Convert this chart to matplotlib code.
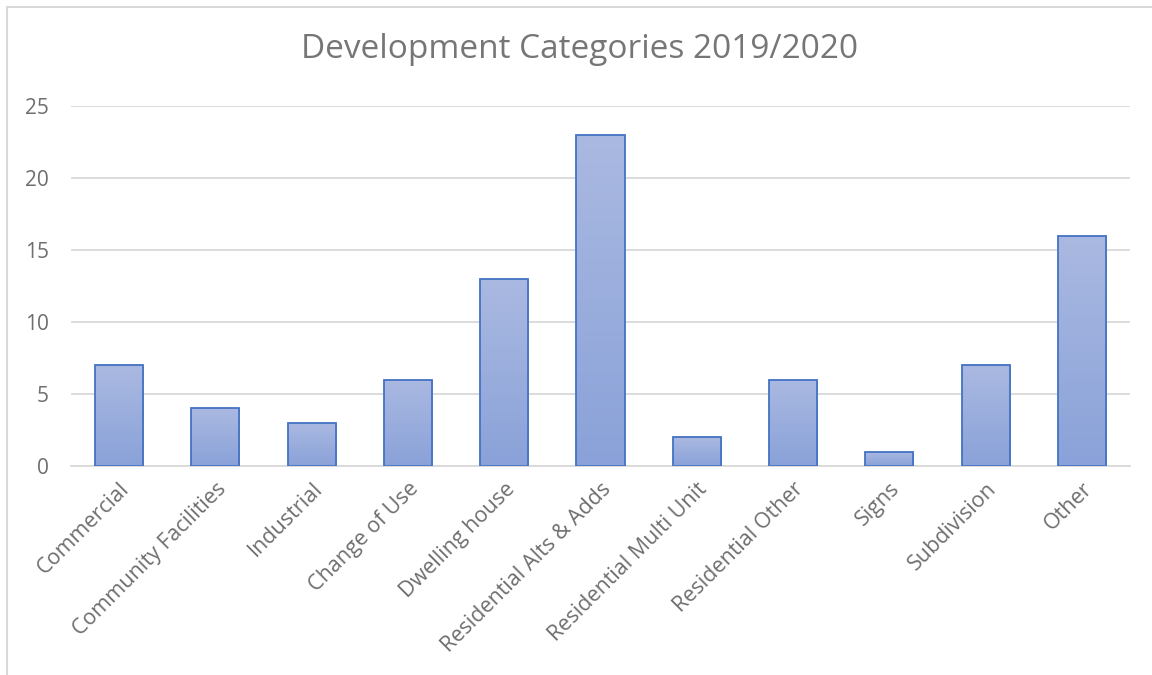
import numpy as np
import matplotlib
matplotlib.use("Agg")
import matplotlib.pyplot as plt
from matplotlib.patches import Rectangle

categories = [
    "Commercial",
    "Community Facilities",
    "Industrial",
    "Change of Use",
    "Dwelling house",
    "Residential Alts & Adds",
    "Residential Multi Unit",
    "Residential Other",
    "Signs",
    "Subdivision",
    "Other",
]
counts = [7, 4, 3, 6, 13, 23, 2, 6, 1, 7, 16]
y_ticks = [0, 5, 10, 15, 20, 25]

title = "Development Categories 2019/2020"
text_color = "#6E6E6E"
grid_color = "#D9D9D9"
edge_color = "#4472C4"

plt.rcParams["font.family"] = ["Open Sans", "DejaVu Sans"]

fig = plt.figure(figsize=(11.52, 6.75), dpi=100)
ax = fig.add_axes([71 / 1152, 1 - 466 / 675, 1059 / 1152, 360 / 675])

x = np.arange(len(categories))
bars = ax.bar(x, counts, width=0.5, facecolor="none",
              edgecolor=edge_color, linewidth=1.3, zorder=3)

# vertical gradient fill, light at top, darker at bottom
grad = np.linspace(0, 1, 256).reshape(-1, 1)
top_rgb = np.array([0xAA, 0xB9, 0xE1]) / 255
bot_rgb = np.array([0x8A, 0xA2, 0xD9]) / 255
for bar in bars:
    x0 = bar.get_x()
    w = bar.get_width()
    h = bar.get_height()
    img = top_rgb * (1 - grad[:, :, None]) + bot_rgb * grad[:, :, None]
    im = ax.imshow(img, extent=[x0, x0 + w, 0, h], origin="upper",
                   aspect="auto", zorder=2)
    im.set_clip_path(bar)

ax.set_xlim(-0.5, len(categories) - 0.5)
ax.set_ylim(0, 25)
ax.set_yticks(y_ticks)
ax.set_xticks(x)
ax.set_xticklabels(categories, rotation=45, ha="right",
                   rotation_mode="anchor", color=text_color, fontsize=15.5)
ax.tick_params(axis="x", length=0, pad=9)
ax.tick_params(axis="y", length=0, pad=16, labelcolor=text_color, labelsize=15)

ax.yaxis.grid(True, color=grid_color, linewidth=1.3, zorder=0)
ax.set_axisbelow(True)
for side in ["top", "right", "left"]:
    ax.spines[side].set_visible(False)
ax.spines["bottom"].set_color(grid_color)
ax.spines["bottom"].set_linewidth(1.3)

fig.text(0.503, 1 - 49 / 675, title, ha="center", va="center",
         fontsize=24, color="#767676")

# chart-area border
fig.patches.append(Rectangle((7 / 1152, -0.1), 1.2, 1.1 - 7 / 675,
                             transform=fig.transFigure, fill=False,
                             edgecolor=grid_color, linewidth=1.5))

fig.savefig("out.png", dpi=100)
